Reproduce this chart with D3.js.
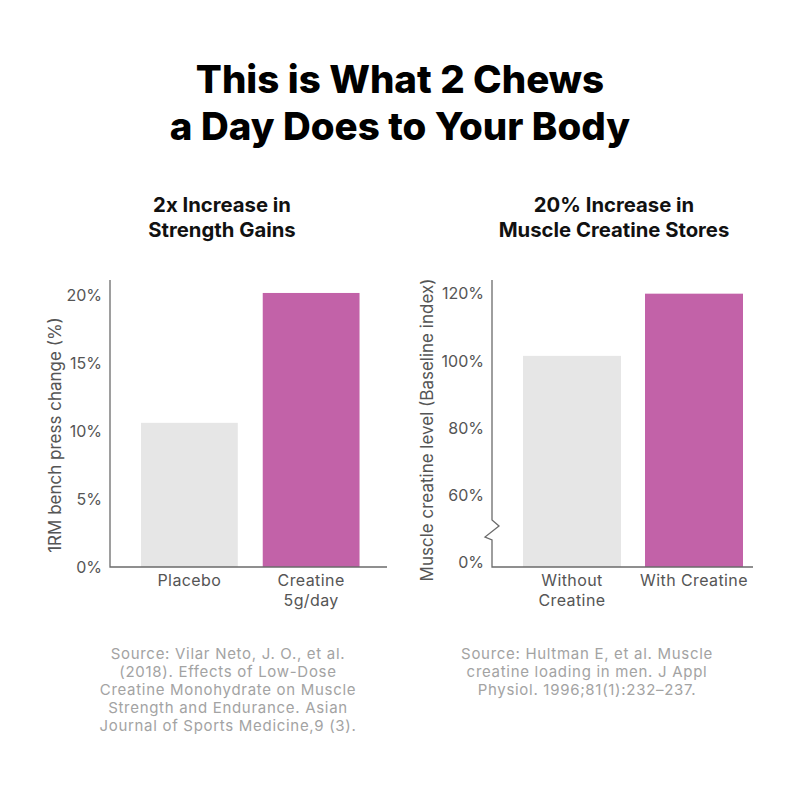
<!DOCTYPE html>
<html>
<head>
<meta charset="utf-8">
<script src="https://cdn.jsdelivr.net/npm/d3@7"></script>
<style>
  body { margin: 0; background: #fff; }
  svg { display: block; font-family: Inter, "Open Sans", sans-serif; }
</style>
</head>
<body>
<svg id="chart" width="800" height="800"></svg>
<script>
// chart data
const titleLines = ['This is What 2 Chews', 'a Day Does to Your Body'];

const strengthTitle = ['2x Increase in', 'Strength Gains'];
const strengthCategories = [['Placebo'], ['Creatine', '5g/day']];
const strengthValues = [10.6, 20.15];
const strengthTicks = [0, 5, 10, 15, 20];
const strengthAxisLabel = '1RM bench press change (%)';
const strengthSource = [
    'Source: Vilar Neto, J. O., et al.',
    '(2018). Effects of Low-Dose',
    'Creatine Monohydrate on Muscle',
    'Strength and Endurance. Asian',
    'Journal of Sports Medicine,9 (3).'
];

const storesTitle = ['20% Increase in', 'Muscle Creatine Stores'];
const storesCategories = [['Without', 'Creatine'], ['With Creatine']];
const storesValues = [101.3, 119.8];
// broken axis: bottom tick shows 0% but sits where 40% would be
const storesTicks = [40, 60, 80, 100, 120];
const storesTickLabels = ['0%', '60%', '80%', '100%', '120%'];
const storesAxisLabel = 'Muscle creatine level (Baseline index)';
const storesSource = [
    'Source: Hultman E, et al. Muscle',
    'creatine loading in men. J Appl',
    'Physiol. 1996;81(1):232\u2013237.'
];

const barColors = ['#e6e6e6', '#c262a8'];
const axisColor = '#6b6b6b';
const textColor = '#555555';
const sourceColor = '#a3a3a3';

const svg = d3.select('#chart');

// main title
svg.append('g')
    .selectAll('text')
    .data(titleLines)
    .join('text')
    .attr('x', 400)
    .attr('y', (d, i) => 93 + i * 47)
    .attr('text-anchor', 'middle')
    .attr('font-size', 38.5)
    .attr('font-weight', 800)
    .attr('fill', '#000')
    .text(d => d);

function drawPanel(opts) {
    const g = svg.append('g');

    // panel heading
    g.selectAll('.heading')
        .data(opts.title)
        .join('text')
        .attr('class', 'heading')
        .attr('x', opts.centerX)
        .attr('y', (d, i) => 212 + i * 25)
        .attr('text-anchor', 'middle')
        .attr('font-size', 20.3)
        .attr('font-weight', 700)
        .attr('fill', '#111')
        .text(d => d);

    const x = d3.scaleBand()
        .domain(d3.range(opts.values.length))
        .range([opts.axisX, opts.axisEnd])
        .paddingInner(opts.padInner)
        .paddingOuter(opts.padOuter)
        .align(opts.align);

    const y = d3.scaleLinear()
        .domain(opts.domain)
        .range(opts.range);

    // bars
    g.selectAll('.bar')
        .data(opts.values)
        .join('rect')
        .attr('class', 'bar')
        .attr('x', (d, i) => x(i))
        .attr('width', x.bandwidth())
        .attr('y', d => y(d))
        .attr('height', d => opts.baseline - y(d))
        .attr('fill', (d, i) => barColors[i]);

    // y axis via d3, line drawn separately for the break
    const yAxis = d3.axisLeft(y)
        .tickValues(opts.ticks)
        .tickSize(0)
        .tickPadding(8)
        .tickFormat((d, i) => opts.tickLabels[i]);

    const ya = g.append('g')
        .attr('transform', `translate(${opts.axisX},0)`)
        .call(yAxis);
    ya.select('.domain').remove();
    ya.selectAll('text')
        .attr('font-size', 16)
        .attr('font-family', 'Inter, sans-serif')
        .attr('fill', textColor)
        .attr('dy', '0.36em');

    // axis lines
    const path = d3.path();
    path.moveTo(opts.axisX, 280);
    if (opts.brk) {
        path.lineTo(opts.axisX, 520);
        path.lineTo(opts.axisX + 7, 526);
        path.lineTo(opts.axisX - 7, 537);
        path.lineTo(opts.axisX, 540);
    }
    path.lineTo(opts.axisX, opts.baseline);
    path.lineTo(opts.axisEnd, opts.baseline);
    g.append('path')
        .attr('d', path.toString())
        .attr('fill', 'none')
        .attr('stroke', axisColor)
        .attr('stroke-width', 1.3);

    // category labels
    opts.categories.forEach((lines, i) => {
        const cx = x(i) + x.bandwidth() / 2;
        g.selectAll(null)
            .data(lines)
            .join('text')
            .attr('x', cx)
            .attr('y', (d, j) => 586 + j * 19.5)
            .attr('text-anchor', 'middle')
            .attr('font-size', 16)
            .attr('letter-spacing', 0.4)
            .attr('fill', textColor)
            .text(d => d);
    });

    // y axis title
    g.append('text')
        .attr('transform', `translate(${opts.labelX},${opts.labelY}) rotate(-90)`)
        .attr('text-anchor', 'middle')
        .attr('font-size', 17)
        .attr('fill', textColor)
        .text(opts.axisLabel);

    // source note
    g.selectAll('.source')
        .data(opts.source)
        .join('text')
        .attr('class', 'source')
        .attr('x', opts.sourceX)
        .attr('y', (d, i) => 659 + i * 18)
        .attr('text-anchor', 'middle')
        .attr('font-size', 15)
        .attr('letter-spacing', 0.7)
        .attr('fill', sourceColor)
        .text(d => d);
}

drawPanel({
    title: strengthTitle,
    centerX: 222,
    values: strengthValues,
    categories: strengthCategories,
    ticks: strengthTicks,
    tickLabels: strengthTicks.map(d => d + '%'),
    domain: [0, 20],
    range: [567, 295],
    baseline: 567,
    axisX: 110,
    axisEnd: 387,
    padInner: 0.205,
    padOuter: 0.24,
    align: 0.53,
    brk: false,
    axisLabel: strengthAxisLabel,
    labelX: 61,
    labelY: 435,
    source: strengthSource,
    sourceX: 228
});

drawPanel({
    title: storesTitle,
    centerX: 614,
    values: storesValues,
    categories: storesCategories,
    ticks: storesTicks,
    tickLabels: storesTickLabels,
    domain: [40, 120],
    range: [562, 293],
    baseline: 567,
    axisX: 492,
    axisEnd: 753,
    padInner: 0.197,
    padOuter: 0.168,
    align: 0.756,
    brk: true,
    axisLabel: storesAxisLabel,
    labelX: 433,
    labelY: 430,
    source: storesSource,
    sourceX: 587
});
</script>
</body>
</html>
